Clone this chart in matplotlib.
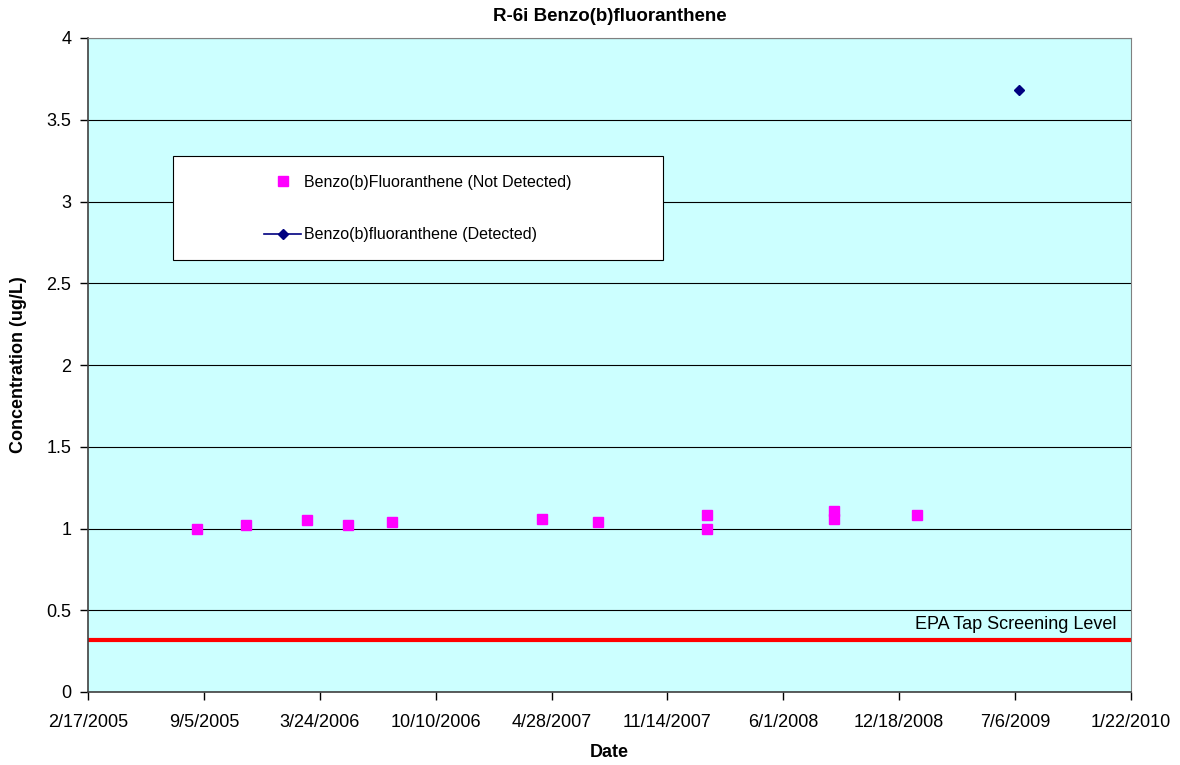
import datetime as dt
import matplotlib
matplotlib.use("Agg")
import matplotlib.pyplot as plt
import matplotlib.dates as mdates
from matplotlib.patches import Rectangle

# sample data
nd_dates = ["2005-08-24", "2005-11-16", "2006-03-02", "2006-05-11", "2006-07-26",
            "2007-04-11", "2007-07-17", "2008-01-22", "2008-01-22", "2008-08-27",
            "2008-08-27", "2009-01-18"]
nd_values = [1.00, 1.02, 1.05, 1.02, 1.04, 1.06, 1.04, 1.08, 1.00, 1.11, 1.06, 1.08]

det_dates = ["2009-07-12"]
det_values = [3.68]

epa_level = 0.32

x_start = dt.date(2005, 2, 17)
tick_step_days = 200
n_ticks = 10

plt.rcParams["font.family"] = ["Liberation Sans", "DejaVu Sans"]
FS = 13

fig = plt.figure(figsize=(11.8, 7.65), dpi=100)
ax = fig.add_axes([88 / 1180, 1 - 692 / 765, (1131 - 88) / 1180, (692 - 38) / 765])
ax.set_facecolor("#CCFFFF")

to_d = lambda s: dt.datetime.strptime(s, "%Y-%m-%d")

ax.plot([to_d(s) for s in nd_dates], nd_values, linestyle="none", marker="s",
        markersize=7.5, color="#FF00FF", markeredgecolor="#FF00FF",
        label="Benzo(b)Fluoranthene (Not Detected)", zorder=3)
ax.plot([to_d(s) for s in det_dates], det_values, linestyle="-", marker="D",
        markersize=5.5, color="#000080", lw=1.2,
        label="Benzo(b)fluoranthene (Detected)", zorder=3)

ax.axhline(epa_level, color="#FF0000", lw=3, zorder=2)
ax.text(0.986, epa_level + 0.09, "EPA Tap Screening Level", transform=ax.get_yaxis_transform(),
        ha="right", va="center", fontsize=FS)

ticks = [x_start + dt.timedelta(days=tick_step_days * i) for i in range(n_ticks)]
ax.set_xlim(mdates.date2num(ticks[0]), mdates.date2num(ticks[-1]))
ax.set_xticks([mdates.date2num(t) for t in ticks])
ax.set_xticklabels([f"{t.month}/{t.day}/{t.year}" for t in ticks], fontsize=FS)

ax.set_ylim(0, 4)
ax.set_yticks([0, 0.5, 1, 1.5, 2, 2.5, 3, 3.5, 4])
ax.set_yticklabels(["0", "0.5", "1", "1.5", "2", "2.5", "3", "3.5", "4"], fontsize=FS)
ax.yaxis.grid(True, color="black", lw=0.8)
ax.set_axisbelow(True)
ax.tick_params(direction="out", length=6, width=1)
ax.tick_params(axis="x", pad=10)
ax.tick_params(axis="y", pad=6)

for side in ["top", "right"]:
    ax.spines[side].set_color("#808080")
for side in ["left", "bottom"]:
    ax.spines[side].set_color("#404040")
    ax.spines[side].set_linewidth(1.2)

ax.set_title("R-6i Benzo(b)fluoranthene", fontsize=13.5, fontweight="bold", pad=12.5)
ax.set_xlabel("Date", fontsize=FS, fontweight="bold", labelpad=9)
ax.set_ylabel("Concentration (ug/L)", fontsize=FS, fontweight="bold", labelpad=14)

# legend frame drawn separately so its padding matches the original
box = Rectangle((173 / 1180, 1 - 260 / 765), 490 / 1180, 104 / 765, transform=fig.transFigure,
                facecolor="white", edgecolor="black", lw=0.8, zorder=4, clip_on=False)
ax.add_patch(box)
leg = ax.legend(loc="center", bbox_to_anchor=((173 + 245) / 1180, 1 - 208.5 / 765),
                bbox_transform=fig.transFigure, frameon=False, fontsize=11.5,
                handlelength=2.3, handletextpad=0.2, labelspacing=2.35)
leg.set_zorder(5)

fig.savefig("out.png", dpi=100)
